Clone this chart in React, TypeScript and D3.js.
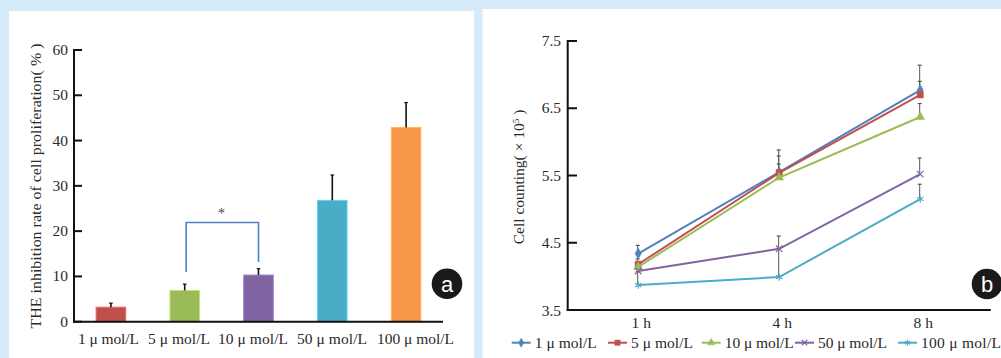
import * as d3 from 'd3'

// panel a: inhibition rate by dose
const doseLabels = ['1 μ mol/L', '5 μ mol/L', '10 μ mol/L', '50 μ mol/L', '100 μ mol/L']
const inhibitionMean = [3.2, 6.9, 10.3, 26.8, 42.9]
const inhibitionErr = [0.9, 1.4, 1.4, 5.6, 5.5]
const barColors = ['#c0504d', '#9bbb59', '#8064a2', '#4bacc6', '#f79646']
const rateTicks = [0, 10, 20, 30, 40, 50, 60]

// panel b: cell counting over time
const timeLabels = ['1 h', '4 h', '8 h']
const count1 = [4.34, 5.55, 6.77]
const count5 = [4.18, 5.54, 6.7]
const count10 = [4.14, 5.47, 6.37]
const count50 = [4.08, 4.41, 5.52]
const count100 = [3.87, 3.99, 5.15]
const err1 = [0.12, 0.33, 0.37]
const err5 = [0.08, 0.25, 0.2]
const err10 = [0.06, 0.2, 0.2]
const err50 = [0.12, 0.19, 0.24]
const err100 = [0.2, 0.42, 0.22]
const countTicks = [3.5, 4.5, 5.5, 6.5, 7.5]
const seriesNames = ['1 μ mol/L', '5 μ mol/L', '10 μ mol/L', '50 μ mol/L', '100 μ mol/L']
const lineColors = ['#4f81bd', '#c0504d', '#9bbb59', '#8064a2', '#4bacc6']

const FONT = '"Liberation Serif", "DejaVu Serif", serif'
const TXT = '#2a2a2a'
const FS = 15.5

function Marker({ kind, x, y, color, scale = 1 }: { kind: number; x: number; y: number; color: string; scale?: number }) {
  const types = [d3.symbolDiamond, d3.symbolSquare, d3.symbolTriangle, d3.symbolX, d3.symbolAsterisk]
  const sizes = [34, 40, 34, 30, 36]
  const path = d3.symbol().type(types[kind]).size(sizes[kind] * scale)()
  const stroked = kind >= 3
  return (
    <path
      d={path || ''}
      transform={`translate(${x},${y})`}
      fill={stroked ? 'none' : color}
      stroke={color}
      strokeWidth={stroked ? 1.2 : 0.5}
    />
  )
}

function PanelA() {
  const x = d3.scaleBand<string>().domain(doseLabels).range([74, 443]).paddingInner(0.6).paddingOuter(0.3)
  const y = d3.scaleLinear().domain([0, 60]).range([321.7, 50])
  const cx = (i: number) => (x(doseLabels[i]) as number) + x.bandwidth() / 2
  const bracketTop = y(21.9)
  // label placement (start x, width) follows the original's uneven spacing
  const labelStart = [78, 148, 218, 297, 377]
  const labelWidth = [61, 62, 70, 70, 77]
  return (
    <g>
      {doseLabels.map((d, i) => (
        <g key={d}>
          <rect
            x={x(d)}
            y={y(inhibitionMean[i])}
            width={x.bandwidth()}
            height={y(0) - y(inhibitionMean[i])}
            fill={barColors[i]}
            stroke={d3.color(barColors[i])!.brighter(0.6).toString()}
            strokeWidth={1}
          />
          <line x1={cx(i)} x2={cx(i)} y1={y(inhibitionMean[i])} y2={y(inhibitionMean[i] + inhibitionErr[i])} stroke="#111" strokeWidth={1.6} />
          <line x1={cx(i) - 1.8} x2={cx(i) + 1.8} y1={y(inhibitionMean[i] + inhibitionErr[i])} y2={y(inhibitionMean[i] + inhibitionErr[i])} stroke="#111" strokeWidth={1.2} />
          <text x={labelStart[i]} y={343.5} fontSize={FS} fill={TXT} textLength={labelWidth[i]} lengthAdjust="spacing">{d}</text>
        </g>
      ))}
      {/* significance bracket 5 vs 10 */}
      <path
        d={`M${cx(1) + 1.5},${y(11)} V${bracketTop} H${cx(2)} V${y(13.2)}`}
        fill="none"
        stroke="#4f81bd"
        strokeWidth={1.6}
      />
      <text x={(cx(1) + cx(2)) / 2} y={218} textAnchor="middle" fontSize={14} fill="#444">*</text>
      {/* axes */}
      <line x1={74} x2={74} y1={y(60) - 1} y2={y(0) + 1} stroke="#111" strokeWidth={2} />
      <line x1={73} x2={443} y1={y(0)} y2={y(0)} stroke="#111" strokeWidth={2} />
      {rateTicks.map(t => (
        <g key={t}>
          <line x1={74} x2={82} y1={y(t)} y2={y(t)} stroke="#111" strokeWidth={2} />
          <text x={68} y={y(t) + 5} textAnchor="end" fontSize={FS} fill={TXT}>{t}</text>
        </g>
      ))}
      <text
        transform="translate(41,186) rotate(-90)"
        textAnchor="middle"
        fontSize={FS}
        fill={TXT}
        textLength={285}
        lengthAdjust="spacingAndGlyphs"
      >
        THE inhibition rate of cell proliferation( % )
      </text>
      <circle cx={447} cy={283.7} r={15.3} fill="#1a1a1a" />
      <text x={447} y={291.5} textAnchor="middle" fontSize={22} fill="#fff" fontFamily="'Liberation Sans', Arial, sans-serif">a</text>
    </g>
  )
}

function PanelB() {
  const x = d3.scalePoint<string>().domain(timeLabels).range([567.7, 990.7]).padding(0.5)
  const y = d3.scaleLinear().domain([3.5, 7.5]).range([310, 41])
  const series = [count1, count5, count10, count50, count100]
  const errs = [err1, err5, err10, err50, err100]
  const line = d3.line<number>().x((_, i) => x(timeLabels[i]) as number).y(v => y(v))
  const legendX = [511.7, 608, 701.7, 795, 898]
  const legendW = [62, 62, 69, 69, 80]
  return (
    <g>
      {/* error bars */}
      {series.map((s, k) =>
        s.map((v, i) => {
          const px = (x(timeLabels[i]) as number) - 0.5
          const top = y(v + errs[k][i])
          return (
            <g key={`e${k}-${i}`}>
              <line x1={px} x2={px} y1={y(v)} y2={top} stroke="#555" strokeWidth={1} />
              <line x1={px - 2} x2={px + 2} y1={top} y2={top} stroke="#555" strokeWidth={1.2} />
            </g>
          )
        })
      )}
      {series.map((s, k) => (
        <g key={`s${k}`}>
          <path d={line(s) || ''} fill="none" stroke={lineColors[k]} strokeWidth={2} />
          {s.map((v, i) => (
            <Marker key={i} kind={k} x={x(timeLabels[i]) as number} y={y(v)} color={lineColors[k]} />
          ))}
        </g>
      ))}
      {/* axes */}
      <line x1={567.7} x2={567.7} y1={y(7.5) - 1} y2={y(3.5) + 1} stroke="#111" strokeWidth={2} />
      <line x1={566.7} x2={990.7} y1={y(3.5)} y2={y(3.5)} stroke="#111" strokeWidth={2} />
      {countTicks.map(t => (
        <g key={t}>
          {t > 3.5 && <line x1={567.7} x2={577} y1={y(t)} y2={y(t)} stroke="#111" strokeWidth={2} />}
          <text x={561} y={y(t) + (t === 3.5 ? 6 : 5)} textAnchor="end" fontSize={FS} fill={TXT}>{t.toFixed(1)}</text>
        </g>
      ))}
      {timeLabels.map(t => (
        <text key={t} x={(x(t) as number) + 3} y={328} textAnchor="middle" fontSize={FS} fill={TXT}>{t}</text>
      ))}
      <text
        transform="translate(524,177) rotate(-90)"
        textAnchor="middle"
        fontSize={FS}
        fill={TXT}
      >
        Cell counting( × 10<tspan dy={-5} fontSize={9}>5</tspan><tspan dy={5}> )</tspan>
      </text>
      {/* legend */}
      {seriesNames.map((n, k) => (
        <g key={n}>
          <line x1={legendX[k]} x2={legendX[k] + 19} y1={342.7} y2={342.7} stroke={lineColors[k]} strokeWidth={2} />
          <Marker kind={k} x={legendX[k] + 9.5} y={342.7} color={lineColors[k]} scale={0.7} />
          <text x={legendX[k] + 23} y={348} fontSize={FS} fill={TXT} textLength={legendW[k]} lengthAdjust="spacing">{n}</text>
        </g>
      ))}
      <circle cx={987} cy={284} r={15.3} fill="#1a1a1a" />
      <text x={987} y={292} textAnchor="middle" fontSize={22} fill="#fff" fontFamily="'Liberation Sans', Arial, sans-serif">b</text>
    </g>
  )
}

export default function App() {
  return (
    <svg
      width={1001}
      height={358}
      style={{ position: 'absolute', left: 0, top: 0, display: 'block' }}
      fontFamily={FONT}
    >
      <rect x={0} y={0} width={1001} height={358} fill="#d5ebf8" />
      <rect x={9} y={11} width={465} height={347} fill="#ffffff" />
      <rect x={482.5} y={9} width={518.5} height={349} fill="#ffffff" />
      <PanelA />
      <PanelB />
    </svg>
  )
}
